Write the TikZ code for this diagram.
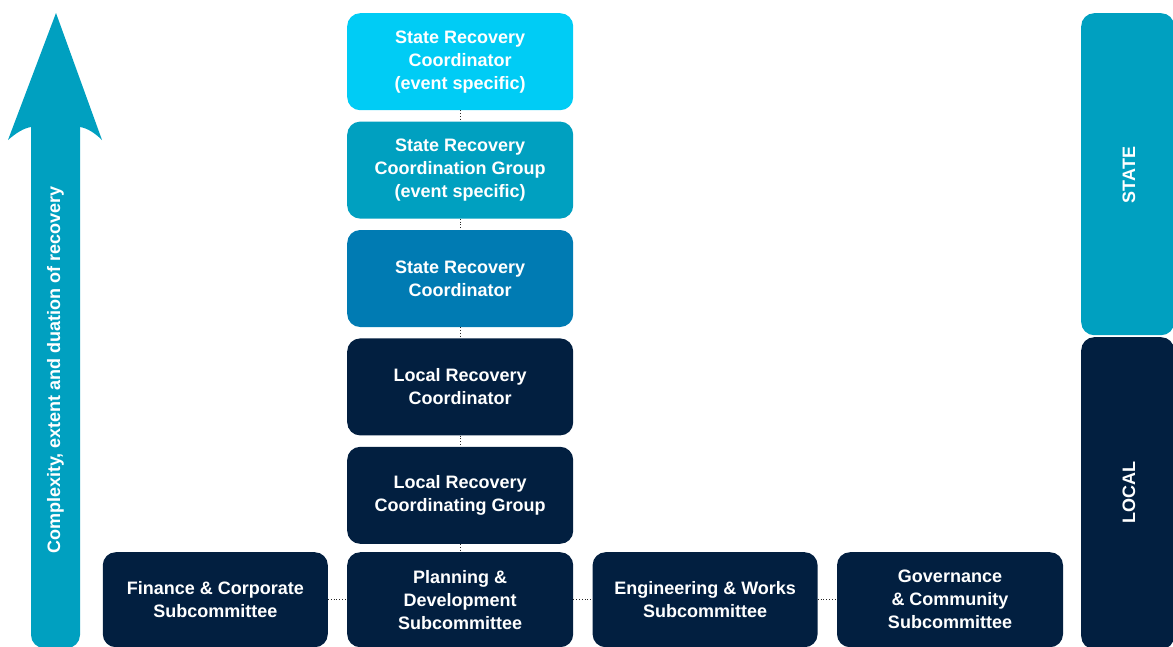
\documentclass[tikz,border=0pt]{standalone}
\usepackage{fontspec}
\setmainfont{Liberation Sans}
\usetikzlibrary{positioning}
\definecolor{cCyan}{HTML}{00CCF5}
\definecolor{cTeal}{HTML}{00A0C0}
\definecolor{cBlue}{HTML}{007BB3}
\definecolor{cNavy}{HTML}{021F40}

\begin{document}
\begin{tikzpicture}[
    x=1pt, y=-1pt,
    font=\bfseries\fontsize{18}{23}\selectfont,
    box/.style={rounded corners=13pt, align=center, text=white, inner sep=0pt, minimum width=226pt, minimum height=97pt},
    navybox/.style={box, fill=cNavy},
    subbox/.style={navybox, minimum width=225pt, minimum height=95pt},
    bar/.style={rounded corners=13pt, inner sep=0pt, minimum width=93pt},
    vlabel/.style={rotate=90, text=white},
    dots/.style={dotted, thick, black!85},
    node distance=11pt and 19pt
]
\useasboundingbox (0,0) rectangle (1173,646);

% arrow
\fill[cTeal, rounded corners=13pt] (31,100) rectangle (80,648);
\fill[cTeal] (56,13) -- (102,140) .. controls (95,133) and (87,128) .. (80,127) -- (31,127) .. controls (24,128) and (16,133) .. (8,140) -- cycle;
\node[vlabel] (axis) at (55.5,370) {Complexity, extent and duation of recovery};

% centre column
\node[box, fill=cCyan, anchor=north west] (src) at (347,13) {State Recovery\\Coordinator\\(event specific)};
\node[box, fill=cTeal, below=of src] (srcg) {State Recovery\\Coordination Group\\(event specific)};
\node[box, fill=cBlue, below=of srcg] (sr) {State Recovery\\Coordinator};
\node[navybox, below=of sr] (lrc) {Local Recovery\\Coordinator};
\node[navybox, below=of lrc] (lrcg) {Local Recovery\\Coordinating Group};

% subcommittees
\node[subbox, minimum width=226pt, below=8pt of lrcg] (plan) {Planning \&\\Development\\Subcommittee};
\node[subbox, left=of plan] (fin) {Finance \& Corporate\\Subcommittee};
\node[subbox, right=of plan] (eng) {Engineering \& Works\\Subcommittee};
\node[subbox, minimum width=226pt, right=of eng] (gov) {Governance\\\& Community\\Subcommittee};

\draw[dots] (src) -- (srcg);
\draw[dots] (srcg) -- (sr);
\draw[dots] (sr) -- (lrc);
\draw[dots] (lrc) -- (lrcg);
\draw[dots] (lrcg) -- (plan);
\draw[dots] (fin) -- (plan);
\draw[dots] (plan) -- (eng);
\draw[dots] (eng) -- (gov);

% levels
\node[bar, fill=cTeal, minimum height=322pt, anchor=north west] (state) at (1081,13) {};
\node[bar, fill=cNavy, minimum height=312pt, anchor=north west] (local) at (1081,337) {};
\node[vlabel] (statet) at (1129,175) {STATE};
\node[vlabel] (localt) at (1129,492) {LOCAL};
\end{tikzpicture}
\end{document}
